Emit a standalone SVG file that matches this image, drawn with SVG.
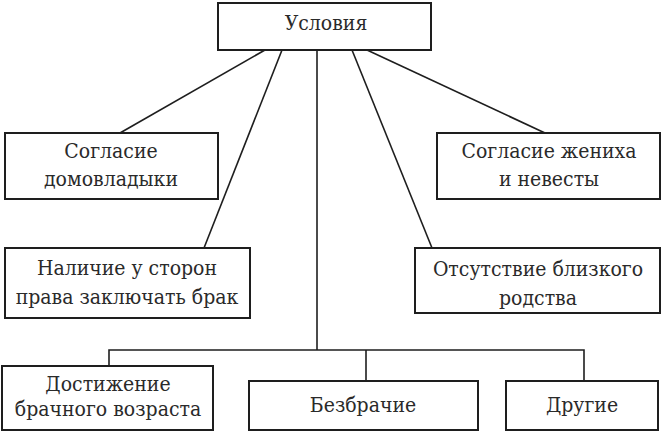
<svg xmlns="http://www.w3.org/2000/svg" width="662" height="432" viewBox="0 0 662 432">
<style>
rect{fill:#fff;stroke:#1e1e1e;stroke-width:2}
line,polyline{stroke:#1e1e1e;stroke-width:1.6;fill:none}
text{font-family:'DejaVu Serif',serif;font-stretch:condensed;font-size:21px;fill:#2a2a2a;text-anchor:middle}
</style>
<g id="connectors">
<line x1="265" y1="50" x2="120" y2="133"/>
<line x1="282" y1="50" x2="204" y2="248"/>
<line x1="317" y1="50" x2="317" y2="350"/>
<line x1="352" y1="50" x2="432" y2="248"/>
<line x1="367" y1="50" x2="545" y2="133"/>
<polyline points="109,366 109,350 584,350 584,381"/>
<line x1="366" y1="350" x2="366" y2="381"/>
</g>
<g id="n-usloviya"><rect x="218" y="3" width="213" height="47"/><text x="326" y="30">Условия</text></g>
<g id="n-domovladyki"><rect x="5" y="133" width="213" height="66"/><text x="111" y="158">Согласие</text><text x="111" y="186">домовладыки</text></g>
<g id="n-zheniha"><rect x="437" y="133" width="223" height="66"/><text x="549" y="158">Согласие жениха</text><text x="549" y="186">и невесты</text></g>
<g id="n-nalichie"><rect x="5" y="248" width="245" height="70"/><text x="127" y="275">Наличие у сторон</text><text x="127" y="304">права заключать брак</text></g>
<g id="n-otsutstvie"><rect x="415" y="248" width="245" height="65"/><text x="538" y="276">Отсутствие близкого</text><text x="538" y="305">родства</text></g>
<g id="n-vozrast"><rect x="2" y="366" width="211" height="64"/><text x="108" y="391">Достижение</text><text x="108" y="416">брачного возраста</text></g>
<g id="n-bezbrachie"><rect x="249" y="381" width="229" height="49"/><text x="363" y="412">Безбрачие</text></g>
<g id="n-drugie"><rect x="506" y="381" width="152" height="49"/><text x="582" y="412">Другие</text></g>
</svg>
